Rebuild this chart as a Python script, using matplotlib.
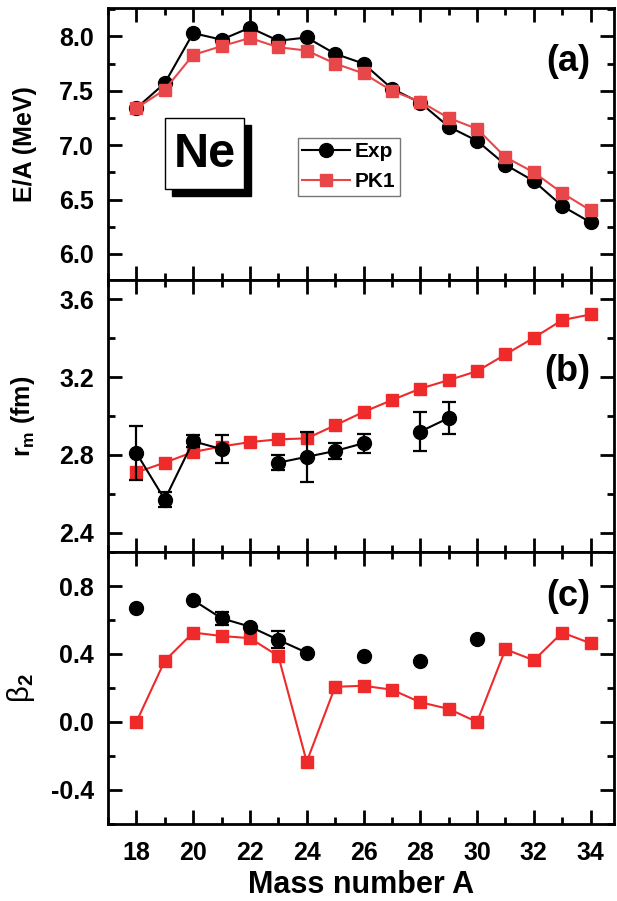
import numpy as np
import matplotlib
matplotlib.use("Agg")
import matplotlib.pyplot as plt
from matplotlib.patches import Rectangle
from matplotlib.ticker import MultipleLocator

plt.rcParams['font.family'] = ['Liberation Sans', 'DejaVu Sans']
plt.rcParams['font.weight'] = 'bold'
plt.rcParams['axes.unicode_minus'] = False
plt.rcParams['mathtext.fontset'] = 'custom'
plt.rcParams['mathtext.rm'] = 'Liberation Sans'
plt.rcParams['mathtext.bf'] = 'Liberation Sans:bold'
plt.rcParams['mathtext.it'] = 'Liberation Sans:italic'

# mass numbers
A = np.arange(18, 35)

# (a) binding energy per nucleon (MeV)
ea_exp = [7.34, 7.57, 8.03, 7.97, 8.08, 7.96, 7.99, 7.84, 7.75, 7.52, 7.39,
          7.17, 7.04, 6.82, 6.67, 6.44, 6.29]
ea_pk1 = [7.34, 7.51, 7.83, 7.91, 7.985, 7.90, 7.87, 7.75, 7.66, 7.50, 7.40,
          7.25, 7.15, 6.89, 6.75, 6.56, 6.40]

# (b) matter radius (fm)
nan = np.nan
rm_exp = [2.81, 2.57, 2.87, 2.83, nan, 2.76, 2.79, 2.82, 2.86, nan, 2.92,
          2.99, nan, nan, nan, nan, nan]
rm_err = [0.14, 0.04, 0.03, 0.07, nan, 0.04, 0.13, 0.04, 0.05, nan, 0.10,
          0.08, nan, nan, nan, nan, nan]
rm_pk1 = [2.71, 2.76, 2.815, 2.843, 2.866, 2.88, 2.885, 2.952, 3.021, 3.082,
          3.141, 3.185, 3.231, 3.317, 3.403, 3.494, 3.523]

# (c) quadrupole deformation
b2_exp = [0.672, nan, 0.717, 0.61, 0.561, 0.483, 0.408, nan, 0.389, nan,
          0.36, nan, 0.487, nan, nan, nan, nan]
b2_err = [nan, nan, nan, 0.04, nan, 0.05, nan, nan, nan, nan,
          nan, nan, nan, nan, nan, nan, nan]
b2_pk1 = [0.0, 0.36, 0.526, 0.506, 0.493, 0.388, -0.234, 0.207, 0.213, 0.19,
          0.116, 0.077, 0.0, 0.428, 0.363, 0.526, 0.463]

red_a = '#E8474A'
red = '#EE2A2A'

fig = plt.figure(figsize=(6.17, 9.01), dpi=100)
fig.subplots_adjust(left=0.175, right=0.995, top=0.991, bottom=0.0855, hspace=0)
ax1 = fig.add_subplot(311)
ax2 = fig.add_subplot(312, sharex=ax1)
ax3 = fig.add_subplot(313, sharex=ax1)

ms_c = 10
ms_s = 8.6
lw = 1.5

# panel (a)
ax1.plot(A, ea_exp, '-o', color='black', ms=ms_c, lw=lw, label='Exp', zorder=3)
ax1.plot(A, ea_pk1, '-s', color=red_a, ms=ms_s, lw=lw, label='PK1', zorder=4)
ax1.set_ylim(5.76, 8.26)
ax1.yaxis.set_major_locator(MultipleLocator(0.5))
ax1.yaxis.set_minor_locator(MultipleLocator(0.25))
ax1.set_ylabel('E/A (MeV)', fontsize=18, fontweight='bold')
leg = ax1.legend(loc='upper left', bbox_to_anchor=(0.375, 0.523), fontsize=15,
                 frameon=True, fancybox=False, borderpad=0.2, handlelength=2.3,
                 handletextpad=0.25, labelspacing=0.55, borderaxespad=0)
leg.get_frame().set_edgecolor('#555555')
leg.get_frame().set_linewidth(1.0)

# Ne box with shadow
ax1.add_patch(Rectangle((0.1264, 0.3078), 0.157, 0.2635, transform=ax1.transAxes,
                        facecolor='black', edgecolor='black', zorder=5))
ax1.add_patch(Rectangle((0.1126, 0.3335), 0.157, 0.2635, transform=ax1.transAxes,
                        facecolor='white', edgecolor='black', lw=1.0, zorder=6))
ax1.text(0.191, 0.463, 'Ne', transform=ax1.transAxes, fontsize=35,
         fontweight='bold', ha='center', va='center', zorder=7)

# panel (b)
ax2.plot(A, rm_pk1, '-s', color=red, ms=ms_s, lw=lw, zorder=3)
ax2.errorbar(A, rm_exp, yerr=rm_err, fmt='-o', color='black', ms=ms_c, lw=lw,
             elinewidth=1.6, capsize=5, capthick=1.6, zorder=4)
ax2.set_ylim(2.3, 3.7)
ax2.yaxis.set_major_locator(MultipleLocator(0.4))
ax2.yaxis.set_minor_locator(MultipleLocator(0.2))
ax2.set_ylabel(r'$\mathbf{r}_\mathbf{m}$ (fm)', fontsize=18, fontweight='bold')

# panel (c)
ax3.plot(A, b2_pk1, '-s', color=red, ms=ms_s, lw=lw, zorder=3)
ax3.errorbar(A, b2_exp, yerr=b2_err, fmt='-o', color='black', ms=ms_c, lw=lw,
             elinewidth=1.6, capsize=5, capthick=1.6, zorder=4)
ax3.set_ylim(-0.6, 1.0)
ax3.yaxis.set_major_locator(MultipleLocator(0.4))
ax3.yaxis.set_minor_locator(MultipleLocator(0.2))
ax3.set_ylabel('β$_{2}$', fontsize=21, fontweight='normal')
ax3.set_xlabel('Mass number A', fontsize=22, fontweight='bold', labelpad=4)

ax3.set_xlim(17.0, 34.82)
ax3.xaxis.set_major_locator(MultipleLocator(2))
ax3.xaxis.set_minor_locator(MultipleLocator(1))

for ax in (ax1, ax2, ax3):
    for s in ax.spines.values():
        s.set_linewidth(2)
    ax.tick_params(which='both', direction='in', top=True, right=True, width=2)
    ax.tick_params(which='major', length=10, labelsize=18, pad=10)
    ax.tick_params(which='minor', length=5)
    ax.yaxis.set_label_coords(-0.14, 0.5)
    for t in ax.get_yticklabels() + ax.get_xticklabels():
        t.set_fontweight('bold')
ax1.text(0.953, 0.805, '(a)', transform=ax1.transAxes, fontsize=26,
         fontweight='bold', ha='right', va='center')
ax2.text(0.953, 0.663, '(b)', transform=ax2.transAxes, fontsize=26,
         fontweight='bold', ha='right', va='center')
ax3.text(0.953, 0.836, '(c)', transform=ax3.transAxes, fontsize=26,
         fontweight='bold', ha='right', va='center')

plt.setp(ax1.get_xticklabels(), visible=False)
plt.setp(ax2.get_xticklabels(), visible=False)
ax3.tick_params(axis='x', pad=12)

plt.savefig("out.png", dpi=100)
